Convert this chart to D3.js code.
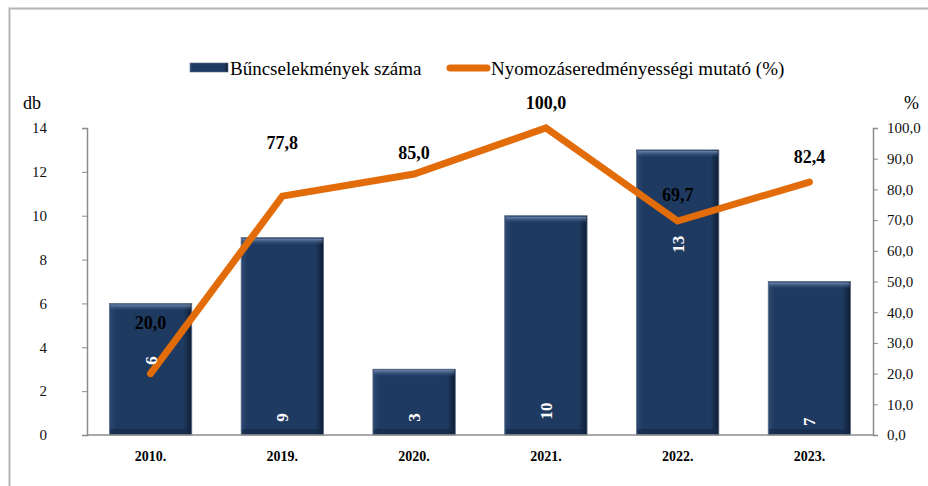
<!DOCTYPE html>
<html>
<head>
<meta charset="utf-8">
<script src="https://cdn.jsdelivr.net/npm/d3@7"></script>
<style>
  body { margin: 0; background: #fff; }
  svg text { font-family: "Liberation Serif", "Times New Roman", serif; }
</style>
</head>
<body>
<div id="chart"></div>
<script>
const years = ["2010.", "2019.", "2020.", "2021.", "2022.", "2023."];
const crimes = [6, 9, 3, 10, 13, 7];
const clearance = [20.0, 77.8, 85.0, 100.0, 69.7, 82.4];
// where the labels sit (in axis units)
const crimeLabelAt = [3.4, 0.8, 0.8, 1.1, 8.7, 0.6];
const clearanceLabelAt = [36.5, 95.1, 91.9, 108.1, 78.2, 90.6];
const leftTicks = [0, 2, 4, 6, 8, 10, 12, 14];
const rightTicks = [0, 10, 20, 30, 40, 50, 60, 70, 80, 90, 100];

const width = 928, height = 486;
const plot = { left: 87, right: 873, top: 128, bottom: 435 };
const fmt = v => v.toFixed(1).replace(".", ",");

const svg = d3.select("#chart").append("svg")
  .attr("width", width).attr("height", height);

// outer frame
svg.append("path")
  .attr("d", `M9.5,${height} V8.5 H${width}`)
  .attr("fill", "none").attr("stroke", "#b4b4b4").attr("stroke-width", 2);

const defs = svg.append("defs");
const grad = defs.append("linearGradient").attr("id", "barGrad").attr("x1", 0).attr("x2", 1);
grad.append("stop").attr("offset", "0%").attr("stop-color", "#2d4a73");
grad.append("stop").attr("offset", "8%").attr("stop-color", "#1f3a60");
grad.append("stop").attr("offset", "90%").attr("stop-color", "#1f3a60");
grad.append("stop").attr("offset", "100%").attr("stop-color", "#0d1c33");
const topGrad = defs.append("linearGradient").attr("id", "topGrad").attr("x1", 0).attr("x2", 0).attr("y1", 0).attr("y2", 1);
topGrad.append("stop").attr("offset", "0%").attr("stop-color", "#6f8bb0");
topGrad.append("stop").attr("offset", "100%").attr("stop-color", "#1f3a60").attr("stop-opacity", 0);

const x = d3.scaleBand().domain(years).range([plot.left, plot.right]).paddingInner(0.375).paddingOuter(0.17);
const yL = d3.scaleLinear().domain([0, 14]).range([plot.bottom, plot.top]);
const yR = d3.scaleLinear().domain([0, 100]).range([plot.bottom, plot.top]);

// axes
const axisColor = "#8c8c8c";
const leftAxis = svg.append("g").attr("transform", `translate(${plot.left},0)`)
  .call(d3.axisLeft(yL).tickValues(leftTicks).tickSize(5).tickPadding(30));
const rightAxis = svg.append("g").attr("transform", `translate(${plot.right},0)`)
  .call(d3.axisRight(yR).tickValues(rightTicks).tickSize(5).tickPadding(9).tickFormat(fmt));
[leftAxis, rightAxis].forEach(g => {
  g.attr("font-family", null);
  g.select(".domain").attr("stroke", axisColor).attr("stroke-width", 1.5);
  g.selectAll(".tick line").attr("stroke", axisColor);
  g.selectAll(".tick text").attr("font-size", 15).attr("fill", "#111");
});
leftAxis.selectAll(".tick text").attr("text-anchor", "end").attr("x", -40);

svg.append("text").attr("x", 23).attr("y", 109).attr("font-size", 18).text("db");
svg.append("text").attr("x", 904).attr("y", 109).attr("font-size", 18).text("%");

// bars
const bars = svg.append("g").selectAll("g").data(years).join("g");
bars.append("rect")
  .attr("x", d => x(d)).attr("width", x.bandwidth())
  .attr("y", (d, i) => yL(crimes[i])).attr("height", (d, i) => yL(0) - yL(crimes[i]))
  .attr("fill", "url(#barGrad)").attr("stroke", "#5b6d86").attr("stroke-width", 0.8);
bars.append("rect")
  .attr("x", d => x(d) + 1).attr("width", x.bandwidth() - 2)
  .attr("y", (d, i) => yL(crimes[i]) + 1).attr("height", 7)
  .attr("fill", "url(#topGrad)");
bars.append("rect")
  .attr("x", d => x(d) + 1).attr("width", x.bandwidth() - 2)
  .attr("y", yL(0) - 6).attr("height", 5)
  .attr("fill", "#142a48").attr("opacity", 0.7);

// x axis baseline
svg.append("line")
  .attr("x1", plot.left).attr("x2", plot.right).attr("y1", plot.bottom).attr("y2", plot.bottom)
  .attr("stroke", axisColor).attr("stroke-width", 1.5);

svg.append("g").selectAll("text").data(years).join("text")
  .attr("x", d => x(d) + x.bandwidth() / 2).attr("y", 461)
  .attr("text-anchor", "middle").attr("font-size", 14).attr("font-weight", "bold")
  .text(d => d);

// line
const cx = d => x(d) + x.bandwidth() / 2;
const line = d3.line().x((d, i) => cx(years[i])).y(d => yR(d));
svg.append("path").datum(clearance)
  .attr("d", line).attr("fill", "none")
  .attr("stroke", "#e36c0a").attr("stroke-width", 7)
  .attr("stroke-linecap", "round").attr("stroke-linejoin", "miter");

// bar labels (rotated)
svg.append("g").selectAll("text").data(crimes).join("text")
  .attr("transform", (d, i) => `translate(${cx(years[i])},${yL(crimeLabelAt[i])}) rotate(-90)`)
  .attr("text-anchor", "middle").attr("dy", "0.35em")
  .attr("font-size", 17).attr("font-weight", "bold").attr("fill", "#fff")
  .text(d => d);

// line labels
svg.append("g").selectAll("text").data(clearance).join("text")
  .attr("x", (d, i) => cx(years[i]))
  .attr("y", (d, i) => yR(clearanceLabelAt[i]))
  .attr("text-anchor", "middle").attr("dy", "0.35em")
  .attr("font-size", 18).attr("font-weight", "bold").attr("fill", "#000")
  .text(d => fmt(d));

// legend
const lg = svg.append("g");
lg.append("rect").attr("x", 190).attr("y", 63).attr("width", 38).attr("height", 9)
  .attr("fill", "url(#barGrad)").attr("stroke", "#5b6d86").attr("stroke-width", 0.6);
lg.append("text").attr("x", 230).attr("y", 75).attr("font-size", 19).text("Bűncselekmények száma");
lg.append("line").attr("x1", 450).attr("x2", 487).attr("y1", 68).attr("y2", 68)
  .attr("stroke", "#e36c0a").attr("stroke-width", 7).attr("stroke-linecap", "round");
lg.append("text").attr("x", 491).attr("y", 75).attr("font-size", 19).text("Nyomozáseredményességi mutató (%)");
</script>
</body>
</html>
